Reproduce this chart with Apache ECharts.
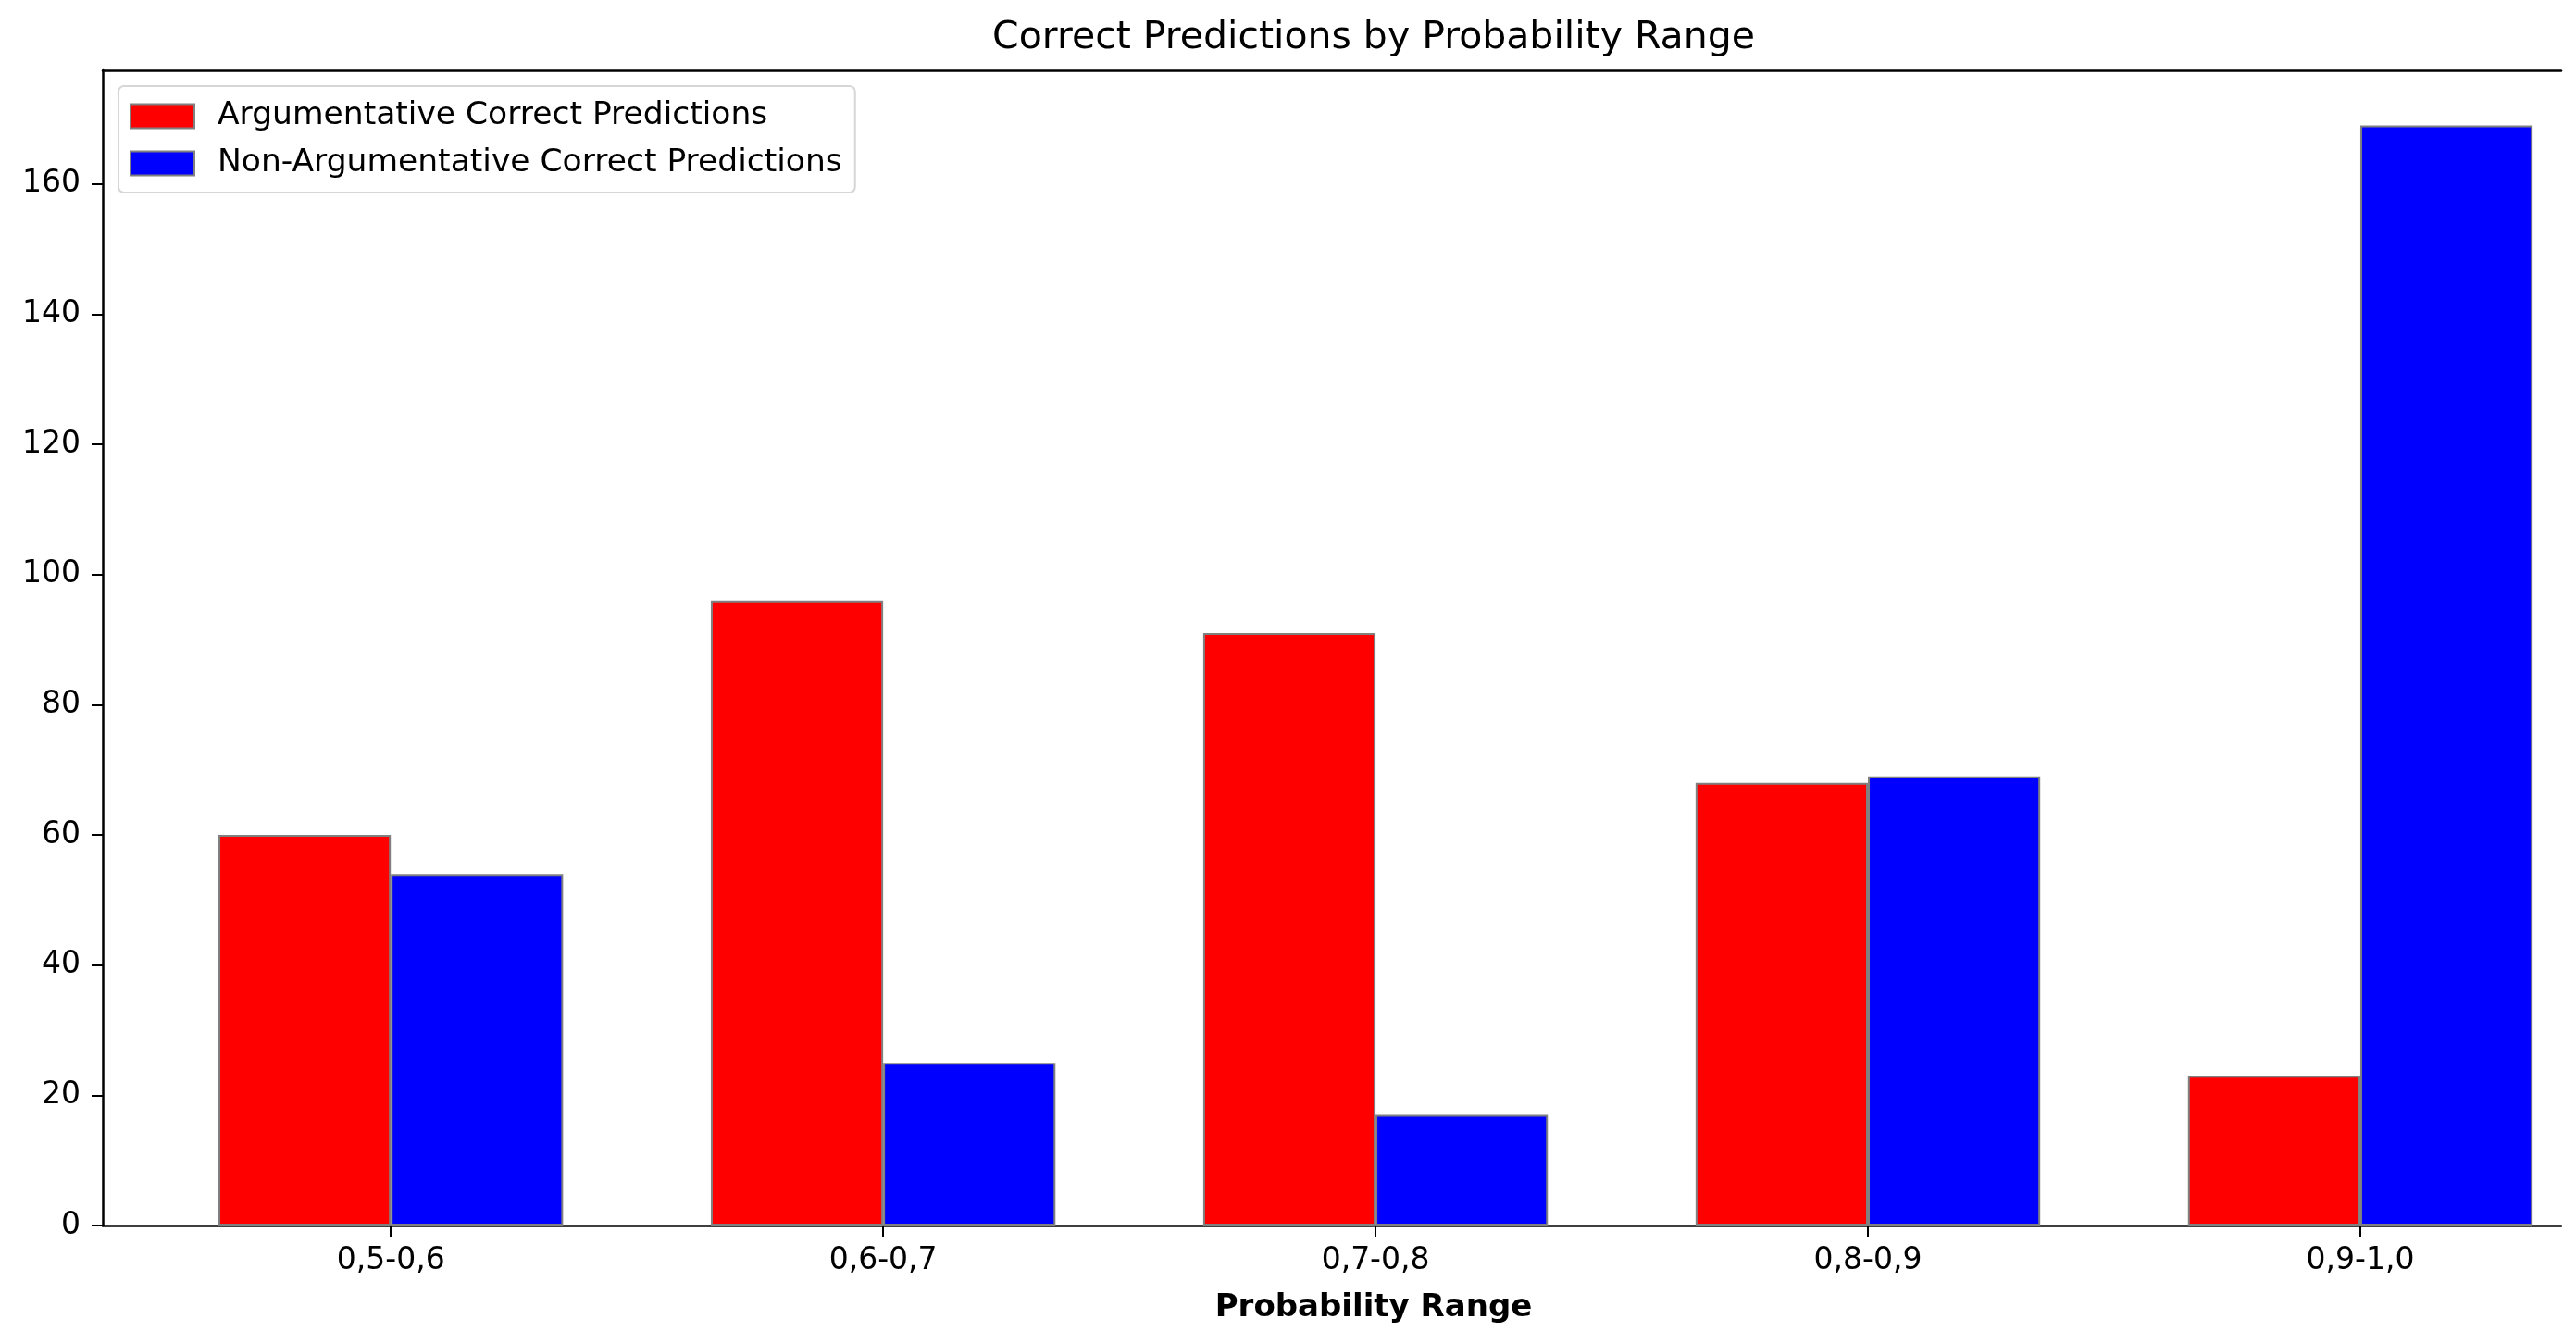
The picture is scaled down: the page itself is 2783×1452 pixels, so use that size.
<!DOCTYPE html>
<html>
<head>
<meta charset="utf-8">
<script src="https://cdn.jsdelivr.net/npm/echarts@6/dist/echarts.min.js"></script>
<style>html,body{margin:0;padding:0;background:#fff;}#chart{width:2783px;height:1452px;}</style>
</head>
<body>
<div id="chart"></div>
<script>
// ---- data ----
const categories = ['0,5-0,6', '0,6-0,7', '0,7-0,8', '0,8-0,9', '0,9-1,0'];
const argumentative = [60, 96, 91, 68, 23];
const nonArgumentative = [54, 25, 17, 69, 169];
const yTicks = [0, 20, 40, 60, 80, 100, 120, 140, 160];
const seriesNames = ['Argumentative Correct Predictions', 'Non-Argumentative Correct Predictions'];

// ---- layout ----
const W = 2783, H = 1452;
const grid = { left: 111, right: 16, top: 76, bottom: 128 };
const barRel = 0.35;           // bar width in category units
const xMin = -0.585, xMax = 4.408;
const yMax = 177.45;
const unitPx = (W - grid.left - grid.right) / (xMax - xMin);
const barW = barRel * unitPx;
const FONT = 'DejaVu Sans';
const tickIdx = categories.map((c, i) => i);
const titleX = 1484;

const chart = echarts.init(document.getElementById('chart'), null, { renderer: 'canvas', width: W, height: H });

const xAxisCommon = {
  type: 'value', min: xMin, max: xMax, splitLine: { show: false }
};

chart.setOption({
  backgroundColor: '#ffffff',
  animation: false,
  title: [
    { text: 'Correct Predictions by Probability Range', left: titleX, top: 21, textAlign: 'center', padding: 0,
      textStyle: { fontFamily: FONT, fontSize: 41, fontWeight: 'normal', color: '#000' } },
    { text: 'Probability Range', left: titleX, top: 1396, textAlign: 'center', padding: 0,
      textStyle: { fontFamily: FONT, fontSize: 34, fontWeight: 'bold', color: '#000' } }
  ],
  legend: {
    orient: 'vertical', left: 128, top: 93,
    padding: [15, 14, 14, 12],
    itemWidth: 69, itemHeight: 26, itemGap: 16,
    backgroundColor: 'rgba(255,255,255,0.8)',
    borderColor: '#d6d6d6', borderWidth: 2, borderRadius: 6,
    textStyle: { fontFamily: FONT, fontSize: 34.5, color: '#000', padding: [0, 0, 0, 20] },
    data: seriesNames.map(n => ({ name: n, icon: 'rect' }))
  },
  grid: grid,
  xAxis: [
    Object.assign({}, xAxisCommon, {
      position: 'bottom',
      axisLine: { show: true, onZero: false, lineStyle: { color: '#000', width: 2.5 } },
      axisTick: { show: true, length: 12, lineStyle: { color: '#000', width: 2 }, customValues: tickIdx },
      axisLabel: { show: true, margin: 22, fontFamily: FONT, fontSize: 33, color: '#000',
        customValues: tickIdx, formatter: v => categories[Math.round(v)] }
    }),
    Object.assign({}, xAxisCommon, {
      position: 'top',
      axisLine: { show: true, onZero: false, lineStyle: { color: '#000', width: 2.5 } },
      axisTick: { show: false }, axisLabel: { show: false }
    })
  ],
  yAxis: {
    type: 'value', min: 0, max: yMax, position: 'left',
    splitLine: { show: false },
    axisLine: { show: true, onZero: false, lineStyle: { color: '#000', width: 2.5 } },
    axisTick: { show: true, length: 12, lineStyle: { color: '#000', width: 2 }, customValues: yTicks },
    axisLabel: { show: true, margin: 24, fontFamily: FONT, fontSize: 33, color: '#000', customValues: yTicks }
  },
  series: [
    {
      name: seriesNames[0], type: 'bar', xAxisIndex: 0, barWidth: barW, barGap: '-100%',
      itemStyle: { color: '#ff0000', borderColor: '#808080', borderWidth: 2 },
      data: argumentative.map((v, i) => [i - barRel / 2, v])
    },
    {
      name: seriesNames[1], type: 'bar', xAxisIndex: 0, barWidth: barW, barGap: '-100%',
      itemStyle: { color: '#0000ff', borderColor: '#808080', borderWidth: 2 },
      data: nonArgumentative.map((v, i) => [i + barRel / 2, v])
    }
  ]
});
</script>
</body>
</html>
